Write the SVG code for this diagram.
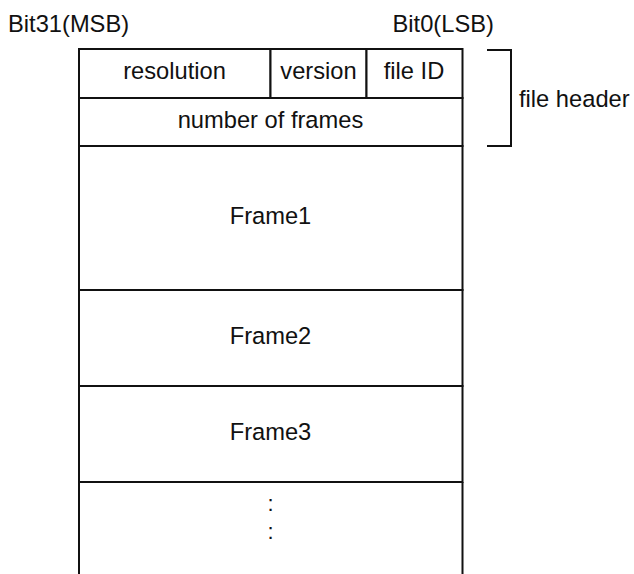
<svg xmlns="http://www.w3.org/2000/svg" width="634" height="574" viewBox="0 0 634 574">
<style>
.cell{fill:#fff;stroke:#111;stroke-width:2}
.ln{fill:none;stroke:#111;stroke-width:2}
text{font-family:"Liberation Sans",Arial,sans-serif;font-size:23.7px;fill:#111}
.c{text-anchor:middle}
</style>
<rect width="634" height="574" fill="#fff"/>
<g id="label-msb"><text x="8" y="32">Bit31(MSB)</text></g>
<g id="label-lsb"><text x="392.5" y="32">Bit0(LSB)</text></g>
<g id="resolution"><rect class="cell" x="79" y="49" width="191.5" height="49"/><text class="c" x="174.5" y="79">resolution</text></g>
<g id="version"><rect class="cell" x="270.5" y="49" width="96" height="49"/><text class="c" x="318.5" y="79">version</text></g>
<g id="file-id"><rect class="cell" x="366.5" y="49" width="96" height="49"/><text class="c" x="414" y="79">file ID</text></g>
<g id="number-of-frames"><rect class="cell" x="79" y="98" width="383.5" height="48"/><text class="c" x="270.5" y="127.5">number of frames</text></g>
<g id="frame1"><rect class="cell" x="79" y="146" width="383.5" height="144"/><text class="c" x="270.5" y="223.5">Frame1</text></g>
<g id="frame2"><rect class="cell" x="79" y="290" width="383.5" height="96"/><text class="c" x="270.5" y="343.5">Frame2</text></g>
<g id="frame3"><rect class="cell" x="79" y="386" width="383.5" height="96"/><text class="c" x="270.5" y="439.5">Frame3</text></g>
<g id="more-frames"><path class="ln" d="M79,482 H462.5 M79,482 V575 M462.5,482 V575"/><text class="c" x="270.5" y="510.5" style="font-size:22px">:</text><text class="c" x="270.5" y="538.5" style="font-size:22px">:</text></g>
<g id="connectors"><path id="header-bracket" class="ln" d="M487,50 H511 V146 H487"/></g>
<g id="file-header"><text x="519" y="107">file header</text></g>
</svg>
